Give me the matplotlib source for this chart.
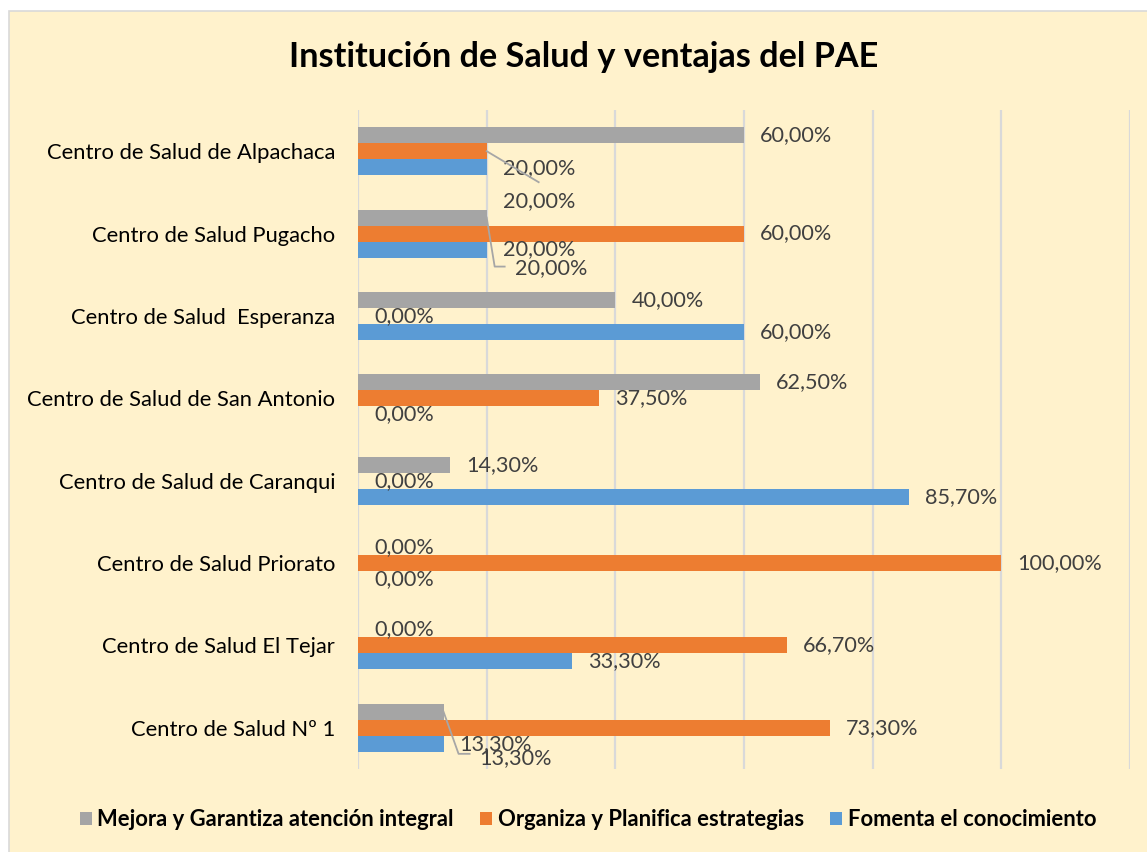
import numpy as np
import matplotlib
matplotlib.use("Agg")
import matplotlib.pyplot as plt
from matplotlib.patches import Rectangle
from matplotlib.lines import Line2D
from matplotlib.transforms import IdentityTransform

# categories from bottom to top (as Excel draws them)
centros = ["Centro de Salud Nº 1", "Centro de Salud El Tejar", "Centro de Salud Priorato",
           "Centro de Salud de Caranqui", "Centro de Salud de San Antonio",
           "Centro de Salud  Esperanza", "Centro de Salud Pugacho",
           "Centro de Salud de Alpachaca"]
mejora = [13.3, 0.0, 0.0, 14.3, 62.5, 40.0, 20.0, 60.0]
organiza = [73.3, 66.7, 100.0, 0.0, 37.5, 0.0, 60.0, 20.0]
fomenta = [13.3, 33.3, 0.0, 85.7, 0.0, 60.0, 20.0, 20.0]
series_names = ["Mejora y Garantiza atención integral",
                "Organiza y Planifica estrategias",
                "Fomenta el conocimiento"]

col_gray = "#A5A5A5"
col_orange = "#ED7D31"
col_blue = "#5B9BD5"
bg = "#FFF2CC"
lbl_col = "#404040"
font = "Lato"

W, H = 1147, 852
fig = plt.figure(figsize=(W / 100, H / 100), dpi=100, facecolor="white")
fig.patches.append(Rectangle((9 / W, -0.01), 1.05, 1 - 11 / H + 0.01, transform=fig.transFigure,
                             facecolor=bg, edgecolor="#D9D9D9", linewidth=1.2, zorder=0))

ax = fig.add_axes([358 / W, 1 - 769 / H, (1130 - 358) / W, (769 - 110) / H])
ax.set_zorder(2)
ax.patch.set_alpha(0)

y = np.arange(len(centros))
h = 0.194
b_gray = ax.barh(y + h, mejora, height=h, color=col_gray, label=series_names[0], zorder=3)
b_orange = ax.barh(y, organiza, height=h, color=col_orange, label=series_names[1], zorder=3)
b_blue = ax.barh(y - h, fomenta, height=h, color=col_blue, label=series_names[2], zorder=3)

ax.set_xlim(0, 120)
ax.set_ylim(-0.5, len(centros) - 0.5)
ax.set_xticks(np.arange(0, 121, 20))
ax.set_xticklabels([])
ax.tick_params(axis="x", length=0)
ax.tick_params(axis="y", length=0, pad=16.5)
ax.set_yticks(y)
ax.set_yticklabels(centros, fontsize=15.8, family=font, color="black")
ax.grid(axis="x", color="#D9D9D9", linewidth=1.6, zorder=0)
for s in ax.spines.values():
    s.set_visible(False)

# labels that Excel moved away from their bar (offsets in pixels, y downwards)
moved = {
    (1, 7): (16, 17),
    (2, 7): (16, 34),
    (0, 6): (28, 51),
    (0, 0): (36, 46),
}
leaders = {
    (1, 7): [(0, 0), (52, 31)],
    (0, 6): [(0, 0), (8, 49), (18, 49)],
    (0, 0): [(0, 0), (15, 42), (26, 42)],
}

fig.canvas.draw()
for si, (vals, off) in enumerate([(mejora, h), (organiza, 0), (fomenta, -h)]):
    for ci, v in enumerate(vals):
        dx, dy = moved.get((si, ci), (16, 0))
        txt = f"{v:.2f}".replace(".", ",") + "%"
        ax.annotate(txt, (v, ci + off), xytext=(dx * 0.72, -dy * 0.72),
                    textcoords="offset points", ha="left", va="center",
                    fontsize=15.6, family=font, color=lbl_col, zorder=5)
        if (si, ci) in leaders:
            px, py = ax.transData.transform((v, ci + off))
            pts = leaders[(si, ci)]
            xs = [px + p[0] for p in pts]
            ys = [py - p[1] for p in pts]
            fig.add_artist(Line2D(xs, ys, transform=IdentityTransform(),
                                  color="#A6A6A6", linewidth=1.3, zorder=4))

fig.text(584 / W, 1 - 57 / H, "Institución de Salud y ventajas del PAE", ha="center", va="center",
         fontsize=24.7, fontweight="bold", family=font, color="black")

leg = fig.legend(handles=[b_gray, b_orange, b_blue], loc="center", ncol=3,
                 bbox_to_anchor=(588 / W, 1 - 820 / H), frameon=False,
                 prop={"family": font, "weight": "bold", "size": 15.8},
                 handlelength=0.55, handleheight=0.55, handletextpad=0.25, columnspacing=1.2)

fig.savefig("out.png", dpi=100, facecolor="white")
